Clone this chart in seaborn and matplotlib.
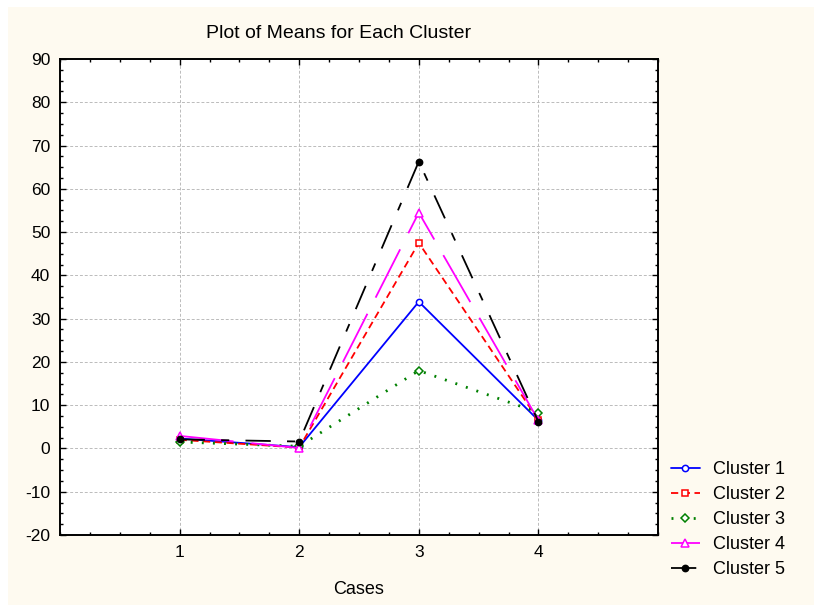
import numpy as np
import pandas as pd
import matplotlib.pyplot as plt
import matplotlib as mpl
from matplotlib.ticker import MultipleLocator, FixedLocator
import seaborn as sns

# data ----------------------------------------------
cases = [1, 2, 3, 4]
cluster1 = [2.3, 0.3, 33.9, 6.5]
cluster2 = [2.0, 0.2, 47.5, 6.6]
cluster3 = [1.5, 0.5, 18.0, 8.3]
cluster4 = [2.9, 0.1, 54.5, 6.5]
cluster5 = [2.1, 1.6, 66.3, 6.2]
labels = ["Cluster 1", "Cluster 2", "Cluster 3", "Cluster 4", "Cluster 5"]

# styling -------------------------------------------
sns.set_style("ticks")
plt.rcParams['font.family'] = ['Liberation Sans', 'DejaVu Sans']
plt.rcParams['axes.unicode_minus'] = False
plt.rcParams['text.color'] = 'black'
plt.rcParams['xtick.labelcolor'] = 'black'
plt.rcParams['ytick.labelcolor'] = 'black'
cream = "#FEFAF0"

styles = [
    dict(color="#0000FF", linestyle="-", marker="o", mfc="white", ms=4.5),
    dict(color="#FF0000", linestyle=(0, (4, 2.5)), marker="s", mfc="white", ms=4),
    dict(color="#008000", linestyle=(0, (0.7, 3.3)), marker="D", mfc="white", ms=4.5),
    dict(color="#FF00FF", linestyle=(0, (30, 10)), marker="^", mfc="white", ms=5.5),
    dict(color="#000000", linestyle=(0, (14, 9, 4.5, 9)), marker="o", mfc="black", ms=4.5),
]
series = [cluster1, cluster2, cluster3, cluster4, cluster5]

fig = plt.figure(figsize=(8.14, 6.05), dpi=100, facecolor="white")
W, H = 814, 605
# cream background panel
fig.patches.append(mpl.patches.Rectangle((8 / W, 0), 1 - 8 / W, 1 - 7 / H,
                                         transform=fig.transFigure,
                                         facecolor=cream, edgecolor="none", zorder=0))

ax = fig.add_axes([60 / W, 1 - 535 / H, (658 - 60) / W, (535 - 59) / H])
ax.set_zorder(2)
ax.set_facecolor("white")

for vals, lab, st in zip(series, labels, styles):
    lw = 2.0 if st["color"] == "#008000" else 1.3
    sns.lineplot(x=cases, y=vals, ax=ax, label=lab, color=st["color"],
                 linestyle=st["linestyle"], marker=st["marker"],
                 markerfacecolor=st["mfc"], markeredgecolor=st["color"],
                 markeredgewidth=1.1, markersize=st["ms"], linewidth=lw)

ax.set_xlim(0, 5)
ax.set_ylim(-20, 90)
ax.xaxis.set_major_locator(FixedLocator(cases))
ax.xaxis.set_minor_locator(MultipleLocator(0.25))
ax.yaxis.set_major_locator(MultipleLocator(10))
ax.yaxis.set_minor_locator(MultipleLocator(2.5))
ax.tick_params(which="both", direction="in", top=True, right=True, color="black",
               labelsize=12.5, width=1.0, labelcolor="black")
ax.tick_params(which="major", length=4, pad=7)
ax.tick_params(which="minor", length=2.5)
ax.grid(True, which="major", color="#BBBBBB", linestyle=(0, (3, 2)), linewidth=0.7)
for sp in ax.spines.values():
    sp.set_visible(True)
    sp.set_color("black")
    sp.set_linewidth(1.4)

ax.set_xlabel("")
ax.set_ylabel("")
fig.text(359 / W, 1 - 590 / H, "Cases", ha="center", va="center", fontsize=13)
fig.text(339 / W, 1 - 33 / H, "Plot of Means for Each Cluster", ha="center",
         va="center", fontsize=14)

ax.legend(loc="upper left", bbox_to_anchor=(671 / W, 1 - 461 / H),
          bbox_transform=fig.transFigure, frameon=False, fontsize=13,
          handlelength=1.6, handletextpad=0.75, labelspacing=0.45,
          borderaxespad=0, borderpad=0)

plt.savefig("out.png", dpi=100, facecolor=fig.get_facecolor())
